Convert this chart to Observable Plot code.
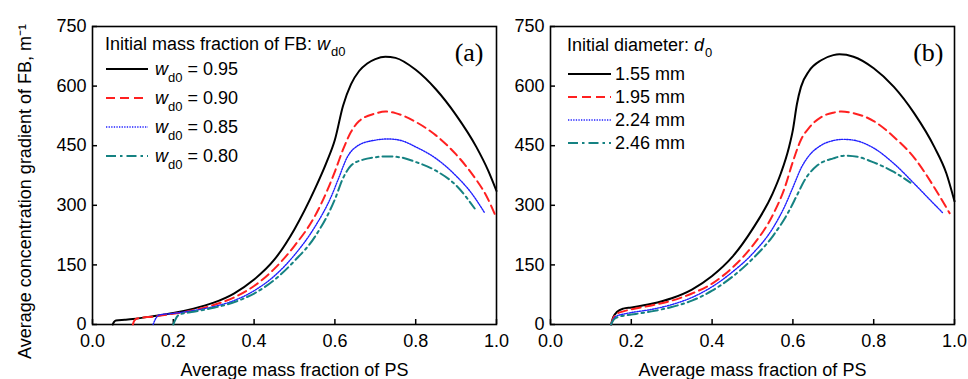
<!DOCTYPE html>
<html><head><meta charset="utf-8">
<script src="https://cdn.jsdelivr.net/npm/d3@7"></script>
<script src="https://cdn.jsdelivr.net/npm/@observablehq/plot@0.6"></script>
<style>
body{margin:0;background:#fff;}
#wrap{position:relative;width:968px;height:379px;overflow:hidden;background:#fff;}
#wrap svg{position:absolute;top:0;}
</style></head><body><div id="wrap"></div>
<script>
const xTicks = [0, 0.2, 0.4, 0.6, 0.8, 1.0];
const yTicks = [0, 150, 300, 450, 600, 750];
const xTitle = "Average mass fraction of PS";
const yTitle = "Average concentration gradient of FB, m⁻¹";
const panelLabels = ["(a)", "(b)"];
const legendTitleA = ["Initial mass fraction of FB: ", "w", "d0"];
const legendTitleB = ["Initial diameter: ", "d", "0"];
const seriesA = ["0.95", "0.90", "0.85", "0.80"];
const seriesB = ["1.55 mm", "1.95 mm", "2.24 mm", "2.46 mm"];

// Panel (a): initial mass fraction of FB
const a095 = [[0.05,0],[0.053,6],[0.058,10],[0.08,12],[0.1,14],[0.15,21],[0.2,29],[0.25,40],[0.3,55],[0.35,78],[0.4,113],[0.45,163],[0.5,240],[0.55,340],[0.58,410],[0.6,465],[0.62,550],[0.64,605],[0.66,638],[0.68,657],[0.7,668],[0.725,674],[0.75,671],[0.8,641],[0.85,592],[0.9,527],[0.95,447],[0.98,386],[1.0,336]];
const a090 = [[0.1,0],[0.103,9],[0.11,15],[0.15,20],[0.2,27],[0.25,36],[0.3,49],[0.35,68],[0.4,97],[0.45,140],[0.5,198],[0.55,272],[0.58,335],[0.6,385],[0.62,440],[0.64,485],[0.66,512],[0.7,531],[0.725,536],[0.75,532],[0.8,510],[0.85,476],[0.9,428],[0.95,364],[0.97,333],[1.0,268]];
const a085 = [[0.15,0],[0.155,12],[0.165,24],[0.2,28],[0.25,35],[0.3,45],[0.35,60],[0.4,85],[0.45,122],[0.5,175],[0.55,245],[0.59,320],[0.61,370],[0.63,420],[0.66,452],[0.7,464],[0.73,467],[0.76,464],[0.8,447],[0.85,418],[0.9,374],[0.94,328],[0.97,282]];
const a080 = [[0.2,0],[0.205,12],[0.215,25],[0.25,32],[0.3,42],[0.35,56],[0.4,78],[0.45,112],[0.5,160],[0.55,220],[0.6,315],[0.62,368],[0.64,400],[0.67,415],[0.7,421],[0.73,423],[0.76,421],[0.8,409],[0.85,387],[0.9,350],[0.946,292]];

// Panel (b): initial diameter
const b155 = [[0.15,0],[0.155,18],[0.165,32],[0.18,40],[0.2,43],[0.25,52],[0.3,66],[0.35,88],[0.4,122],[0.45,170],[0.5,240],[0.55,330],[0.57,380],[0.59,445],[0.6,490],[0.61,555],[0.62,598],[0.64,638],[0.67,665],[0.7,678],[0.715,680],[0.75,674],[0.8,645],[0.85,598],[0.9,532],[0.95,447],[0.98,380],[1.0,310]];
const b195 = [[0.15,0],[0.155,15],[0.165,27],[0.18,33],[0.2,38],[0.25,48],[0.3,60],[0.35,78],[0.4,103],[0.45,143],[0.5,198],[0.55,275],[0.58,345],[0.6,410],[0.62,465],[0.64,495],[0.67,522],[0.7,533],[0.72,536],[0.75,532],[0.8,512],[0.85,472],[0.9,420],[0.95,345],[0.988,280]];
const b224 = [[0.15,0],[0.155,12],[0.165,22],[0.18,26],[0.2,30],[0.25,38],[0.3,50],[0.35,68],[0.4,95],[0.45,132],[0.5,178],[0.55,242],[0.58,298],[0.6,345],[0.62,393],[0.64,425],[0.67,451],[0.7,463],[0.725,466],[0.75,464],[0.8,444],[0.85,405],[0.9,355],[0.94,313],[0.97,282]];
const b246 = [[0.15,0],[0.155,10],[0.165,18],[0.18,22],[0.2,25],[0.25,33],[0.3,44],[0.35,60],[0.4,85],[0.45,120],[0.5,165],[0.55,222],[0.59,285],[0.61,325],[0.63,365],[0.66,400],[0.7,418],[0.73,425],[0.76,422],[0.8,408],[0.85,384],[0.891,357]];

const colors = ["#000000", "#ff2020", "#2020ff", "#158282"];
const dashes = [null, "9,5", "1.3,1.3", "10,4,2.5,4"];
const widths = [2, 2, 1.4, 2];

const FONT = "'Liberation Sans', Arial, sans-serif";

function panel(seriesData, opts) {
  const marks = [
    Plot.frame({stroke: "#000", strokeWidth: 1.6}),
    Plot.axisX({ticks: xTicks, tickFormat: d3.format(".1f"), tickSize: -5, tickPadding: 15, label: null, strokeWidth: 1.5}),
    Plot.axisY({ticks: yTicks, tickSize: -5, tickPadding: 11, label: null, strokeWidth: 1.5}),
    ...seriesData.map((d, i) => Plot.line(d, {x: p => p[0], y: p => p[1], stroke: colors[i], strokeWidth: widths[i], strokeDasharray: dashes[i], curve: "monotone-x"})),
    Plot.text([opts.label], {frameAnchor: "top-right", dx: opts.labelDx, dy: 26, textAnchor: "end", lineAnchor: "middle", fontFamily: "'Liberation Serif', 'Times New Roman', serif", fontSize: 26}),
    Plot.text([xTitle], {frameAnchor: "bottom", dy: 39, lineAnchor: "top", fontSize: 18})
  ];
  if (opts.yTitle) marks.push(Plot.text([yTitle], {frameAnchor: "left", rotate: -90, dx: -62, dy: 16, textAnchor: "middle", lineAnchor: "bottom", fontSize: 18}));
  return Plot.plot({
    width: opts.width, height: 379,
    marginLeft: opts.marginLeft, marginRight: opts.marginRight, marginTop: 26, marginBottom: 55,
    x: {domain: [0, 1]},
    y: {domain: [0, 750]},
    style: {fontFamily: FONT, fontSize: "18px", background: "transparent", overflow: "visible", color: "#000"},
    marks
  });
}

function addLegend(svg, o) {
  const g = d3.select(svg).append("g").attr("font-family", FONT).attr("font-size", 18).attr("fill", "#000").attr("text-anchor", "start");
  const t = g.append("text").attr("x", o.x).attr("y", o.titleY);
  t.append("tspan").text(o.title[0]);
  t.append("tspan").attr("font-style", "italic").text(o.title[1]);
  t.append("tspan").attr("font-size", 13).attr("dy", 6).attr("dx", 1).text(o.title[2]);
  o.rows.forEach((lab, i) => {
    const y = o.row0 + i * o.rowStep;
    g.append("line").attr("x1", o.x + 1).attr("x2", o.x + 1 + o.lineLen).attr("y1", y).attr("y2", y)
      .attr("stroke", colors[i]).attr("stroke-width", widths[i]).attr("stroke-dasharray", dashes[i]);
    const tx = g.append("text").attr("x", o.textX).attr("y", y + 6);
    if (o.sym) {
      tx.append("tspan").attr("font-style", "italic").text("w");
      tx.append("tspan").attr("font-size", 13).attr("dy", 7).text("d0");
      tx.append("tspan").attr("dy", -7).text(" = " + lab);
    } else {
      tx.text(lab);
    }
  });
}

const wrap = document.getElementById("wrap");
const pa = panel([a095, a090, a085, a080], {width: 510, marginLeft: 92, marginRight: 14, label: panelLabels[0], labelDx: -13, yTitle: true});
pa.style.left = "0px";
addLegend(pa, {x: 105, titleY: 50, title: legendTitleA, rows: seriesA, row0: 69, rowStep: 29, lineLen: 42, textX: 155, sym: true});
const pb = panel([b155, b195, b224, b246], {width: 458, marginLeft: 40, marginRight: 14, label: panelLabels[1], labelDx: -11, yTitle: false});
pb.style.left = "510px";
addLegend(pb, {x: 57, titleY: 51, title: legendTitleB, rows: seriesB, row0: 74, rowStep: 23, lineLen: 43, textX: 105, sym: false});
wrap.appendChild(pa);
wrap.appendChild(pb);
</script></body></html>
